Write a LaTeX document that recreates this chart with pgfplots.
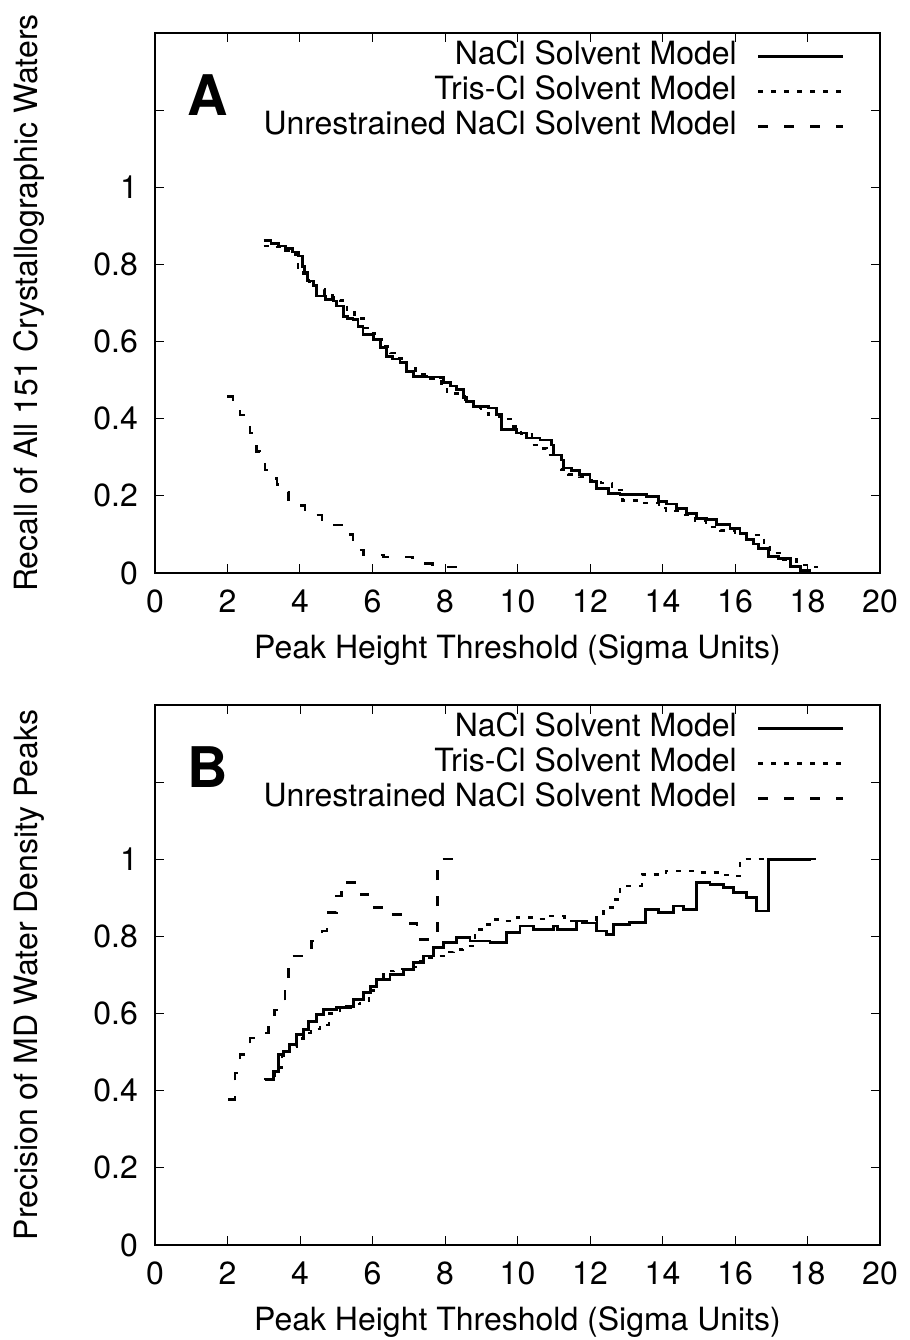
\documentclass[border=0pt]{standalone}
\usepackage{fontspec}
\setmainfont{TeX Gyre Heros}
\usepackage{pgfplots}
\pgfplotsset{compat=1.18}

\pgfplotsset{
  panel/.style={
    scale only axis, width=362.5pt, height=270pt, anchor=south west,
    xmin=0, xmax=20, ymin=0, ymax=1.4,
    xtick={0,2,4,6,8,10,12,14,16,18,20},
    ytick={0,0.2,0.4,0.6,0.8,1,1.2,1.4},
    yticklabels={0,0.2,0.4,0.6,0.8,1,{},{}},
    tick align=inside, tick pos=both, major tick length=4.5pt,
    every tick/.style={black, line width=0.5pt},
    axis line style={line width=0.9pt},
    tick label style={font=\fontsize{16}{18}\selectfont},
    label style={font=\fontsize{16}{18}\selectfont},
    /pgf/number format/assume math mode=true,
    xlabel={Peak Height Threshold (Sigma Units)},
    xlabel style={at={(rel axis cs:0.5,0)}, anchor=center, yshift=-38.5pt},
    % rotated label: yshift moves it left
    ylabel style={at={(rel axis cs:0,0.5)}, anchor=center, yshift=63pt},
    yticklabel style={xshift=-5pt},
    xticklabel style={yshift=-5pt},
    legend style={at={(rel axis cs:1,1)}, anchor=north east,
      xshift=-17.5pt, yshift=-3.8pt, draw=none, fill=none, inner sep=0pt,
      row sep=2pt, column sep=10pt, font=\fontsize{16}{18}\selectfont,
      nodes={inner sep=0pt, text height=12pt, text depth=3.5pt}},
    legend cell align=right, legend plot pos=right,
    legend image code/.code={\draw[#1] (0pt,0pt) -- (42.5pt,0pt);},
  },
  nacl/.style={black, line width=1.4pt, const plot},
  tris/.style={black, line width=1.2pt, dash pattern=on 2.5pt off 4pt, const plot},
  unres/.style={black, line width=1.2pt, dash pattern=on 5pt off 8pt, const plot},
}

\begin{document}
\begin{tikzpicture}
\useasboundingbox (0,0) rectangle (455pt,670pt);

% panel A: recall
\begin{axis}[panel, at={(77.5pt,383.5pt)},
  ylabel={Recall of All 151 Crystallographic Waters}]
\addplot[nacl] coordinates {
(3.0,0.861)(3.2,0.855)(3.4,0.848)(3.6,0.841)(3.8,0.832)(3.95,0.822)
(4.07,0.795)(4.12,0.779)(4.2,0.757)(4.37,0.744)(4.46,0.718)(4.7,0.709)
(4.92,0.705)(5.01,0.692)(5.19,0.666)(5.3,0.66)(5.46,0.657)(5.6,0.64)
(5.74,0.618)(6.02,0.605)(6.21,0.584)(6.39,0.562)(6.55,0.555)(6.76,0.545)
(6.94,0.523)(7.13,0.510)(7.5,0.508)(7.86,0.506)(7.95,0.493)(8.15,0.485)
(8.32,0.475)(8.51,0.454)(8.6,0.445)(8.78,0.432)(9.2,0.428)(9.43,0.41)
(9.55,0.371)(9.98,0.363)(10.25,0.35)(10.62,0.345)(10.94,0.332)(10.99,0.306)
(11.22,0.293)(11.26,0.272)(11.5,0.265)(11.72,0.255)(12.0,0.237)(12.18,0.22)
(12.51,0.207)(12.83,0.203)(13.56,0.198)(13.89,0.185)(14.11,0.179)(14.39,0.168)
(14.67,0.155)(14.94,0.142)(15.22,0.138)(15.5,0.125)(15.86,0.116)(16.14,0.103)
(16.32,0.086)(16.5,0.075)(16.64,0.064)(16.92,0.042)(17.19,0.038)(17.52,0.016)
(17.8,0.007)(18.1,0.007)
};
\addlegendentry{NaCl Solvent Model}
\addplot[tris] coordinates {
(3.0,0.848)(3.3,0.845)(3.6,0.836)(3.8,0.826)(3.95,0.791)(4.1,0.775)
(4.25,0.755)(4.45,0.735)(4.68,0.725)(4.9,0.716)(5.1,0.706)(5.3,0.675)
(5.5,0.66)(5.75,0.635)(5.95,0.622)(6.07,0.605)(6.3,0.587)(6.5,0.57)
(6.7,0.556)(6.95,0.53)(7.2,0.515)(7.6,0.503)(7.9,0.49)(8.05,0.465)
(8.35,0.458)(8.55,0.445)(8.8,0.428)(9.0,0.415)(9.2,0.41)(9.5,0.40)
(9.85,0.38)(10.1,0.36)(10.4,0.332)(10.6,0.323)(10.8,0.306)(11.2,0.268)
(11.4,0.255)(11.7,0.25)(12.0,0.24)(12.3,0.233)(12.6,0.215)(12.9,0.188)
(13.3,0.181)(13.9,0.168)(14.1,0.16)(14.5,0.15)(14.9,0.135)(15.2,0.12)
(15.6,0.11)(16.0,0.104)(16.3,0.099)(16.8,0.068)(16.95,0.052)(17.3,0.035)
(17.7,0.021)(18.2,0.015)(18.4,0.015)
};
\addlegendentry{Tris-Cl Solvent Model}
\addplot[unres] coordinates {
(2.0,0.458)(2.15,0.44)(2.34,0.41)(2.5,0.385)(2.62,0.363)(2.7,0.34)
(2.8,0.315)(2.9,0.29)(3.03,0.267)(3.2,0.245)(3.36,0.229)(3.5,0.21)
(3.68,0.19)(3.9,0.175)(4.14,0.164)(4.35,0.15)(4.6,0.138)(4.9,0.125)
(5.15,0.116)(5.3,0.1)(5.47,0.081)(5.6,0.06)(5.75,0.047)(6.3,0.042)
(7.1,0.034)(7.3,0.025)(7.65,0.016)(8.3,0.008)(8.6,0.008)
};
\addlegendentry{Unrestrained NaCl Solvent Model}
\node[font=\fontsize{28}{28}\bfseries\selectfont] at (rel axis cs:0.0731,0.885) {A};
\end{axis}

% panel B: precision
\begin{axis}[panel, at={(77.5pt,47.5pt)},
  ylabel={Precision of MD Water Density Peaks}]
\addplot[nacl] coordinates {
(3.03,0.429)(3.26,0.45)(3.4,0.494)(3.54,0.502)(3.7,0.52)(3.91,0.545)
(4.09,0.558)(4.23,0.58)(4.46,0.597)(4.64,0.61)(5.0,0.615)(5.29,0.619)
(5.47,0.636)(5.75,0.654)(5.95,0.67)(6.12,0.688)(6.48,0.701)(6.85,0.714)
(7.13,0.732)(7.4,0.749)(7.68,0.771)(7.95,0.784)(8.32,0.797)(8.69,0.788)
(9.24,0.784)(9.7,0.81)(10.07,0.827)(10.44,0.818)(10.99,0.827)(11.1,0.818)
(11.63,0.84)(11.8,0.835)(12.18,0.814)(12.46,0.805)(12.64,0.831)(13.1,0.836)
(13.52,0.87)(13.89,0.862)(14.3,0.879)(14.57,0.87)(14.94,0.939)(15.31,0.935)
(15.68,0.926)(15.95,0.913)(16.32,0.9)(16.6,0.866)(16.92,1.0)(18.1,1.0)
};
\addlegendentry{NaCl Solvent Model}
\addplot[tris] coordinates {
(3.0,0.43)(3.3,0.46)(3.5,0.49)(3.7,0.515)(3.9,0.535)(4.1,0.55)
(4.3,0.56)(4.55,0.571)(4.8,0.6)(5.1,0.615)(5.4,0.625)(5.66,0.632)
(5.9,0.66)(6.1,0.69)(6.3,0.71)(6.6,0.715)(6.9,0.72)(7.2,0.735)
(7.5,0.745)(7.72,0.749)(8.0,0.76)(8.23,0.766)(8.5,0.775)(8.83,0.818)
(9.01,0.831)(9.24,0.844)(9.6,0.84)(9.98,0.849)(10.4,0.845)(10.9,0.853)
(11.3,0.84)(11.7,0.84)(12.18,0.853)(12.37,0.875)(12.69,0.896)(12.83,0.931)
(13.43,0.961)(14.1,0.97)(15.0,0.966)(15.6,0.96)(15.95,0.957)(16.14,1.0)
(18.4,1.0)
};
\addlegendentry{Tris-Cl Solvent Model}
\addplot[unres] coordinates {
(2.02,0.377)(2.21,0.446)(2.34,0.494)(2.62,0.537)(2.94,0.55)(3.13,0.593)
(3.3,0.61)(3.45,0.628)(3.59,0.688)(3.68,0.749)(4.05,0.755)(4.32,0.788)
(4.6,0.814)(4.74,0.862)(5.01,0.905)(5.15,0.944)(5.3,0.94)(5.56,0.909)
(5.88,0.875)(6.44,0.857)(6.94,0.834)(7.22,0.792)(7.59,0.814)(7.79,1.0)
(8.6,1.0)
};
\addlegendentry{Unrestrained NaCl Solvent Model}
\node[font=\fontsize{28}{28}\bfseries\selectfont] at (rel axis cs:0.0731,0.885) {B};
\end{axis}
\end{tikzpicture}
\end{document}
